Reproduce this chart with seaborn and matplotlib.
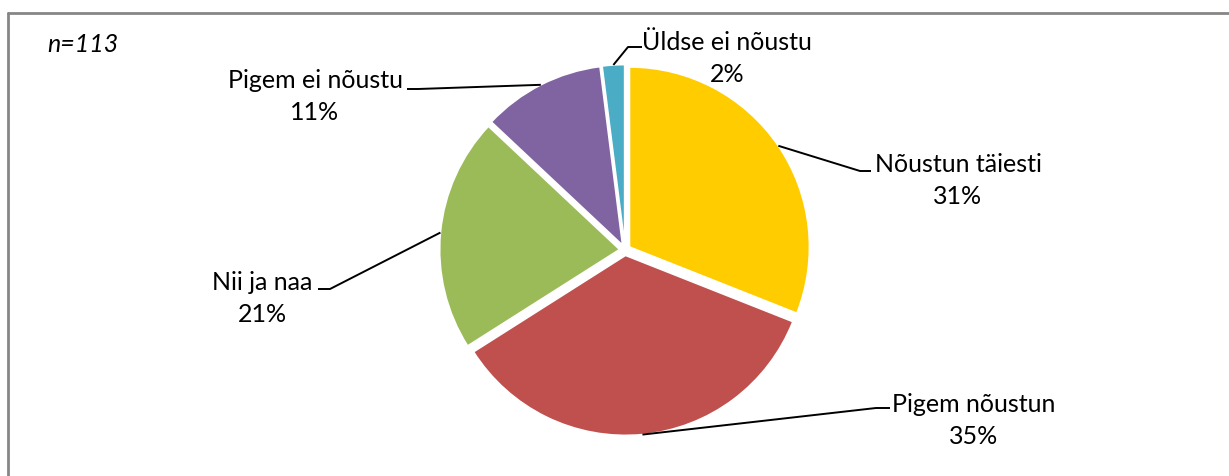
import matplotlib.pyplot as plt
import seaborn as sns
import numpy as np

# survey answers, n=113
categories = ['Nõustun täiesti', 'Pigem nõustun', 'Nii ja naa', 'Pigem ei nõustu', 'Üldse ei nõustu']
shares = [31, 35, 21, 11, 2]
colors = ['#FFCC00', '#C0504D', '#9BBB59', '#8064A2', '#4BACC6']

sns.set_theme(style='white')
plt.rcParams['font.family'] = ['Lato', 'DejaVu Sans']

W, H = 1229, 477
fig = plt.figure(figsize=(W / 100, H / 100), dpi=100)
ax = fig.add_axes([0, 0, 1, 1])

def fy(y):
    # image row -> data y
    return H - y

cx, cy, R = 625, fy(251), 180
# explode offset is in data units here (pixels)
wedges, _ = ax.pie(shares, colors=colors, startangle=90, counterclock=False,
                   center=(cx, cy), radius=R, explode=[0.03 * R] * len(shares),
                   wedgeprops=dict(edgecolor='white', linewidth=1.2))

# label layout: elbow of leader, end of horizontal tick, text centre
layout = [
    ((860, 172), (871, 172), (958, 165)),
    ((876, 409), (890, 409), (974, 405)),
    ((330, 290), (318, 290), (262, 283)),
    ((418, 90), (407, 90), (315, 80)),
    ((628, 48), (642, 48), (727, 43)),
]

fs = 18
for w, cat, val, (elb, end, txt) in zip(wedges, categories, shares, layout):
    mid = np.deg2rad((w.theta1 + w.theta2) / 2)
    ax0 = w.center[0] + w.r * np.cos(mid)
    ay0 = w.center[1] + w.r * np.sin(mid)
    ax.plot([ax0, elb[0], end[0]], [ay0, fy(elb[1]), fy(end[1])],
            color='black', lw=1.4, solid_capstyle='butt')
    ax.text(txt[0], fy(txt[1]), cat, ha='center', va='center', fontsize=fs, color='black')
    ax.text(txt[0], fy(txt[1] + 32), f'{val}%', ha='center', va='center', fontsize=fs, color='black')

ax.text(47, fy(45), 'n=113', ha='left', va='center', fontsize=fs, style='italic', color='black')

# chart frame (only top and left visible)
ax.plot([8, W], [fy(13.5), fy(13.5)], color='#868686', lw=2)
ax.plot([8, 8], [fy(13.5), 0], color='#868686', lw=2)

ax.set_xlim(0, W)
ax.set_ylim(0, H)
ax.set_aspect('auto')
ax.axis('off')

plt.savefig('out.png', dpi=100, facecolor='white')
